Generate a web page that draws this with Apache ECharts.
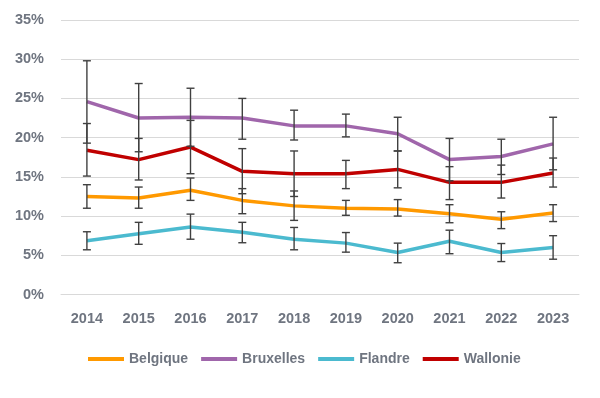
<!DOCTYPE html>
<html>
<head>
<meta charset="utf-8">
<script src="https://cdn.jsdelivr.net/npm/echarts@6/dist/echarts.min.js"></script>
<style>
  html, body { margin: 0; padding: 0; background: #fff; }
  #chart { width: 600px; height: 398px; }
</style>
</head>
<body>
<div id="chart"></div>
<script>
// années
var years = ["2014", "2015", "2016", "2017", "2018", "2019", "2020", "2021", "2022", "2023"];

// valeurs (%) + intervalles de confiance
var belgique = [12.5, 12.3, 13.3, 12.0, 11.3, 11.0, 10.9, 10.3, 9.6, 10.4];
var belgiqueLow = [11.0, 11.0, 12.0, 10.3, 9.45, 10.1, 10.0, 9.15, 8.4, 9.3];
var belgiqueHigh = [14.0, 13.7, 14.85, 13.5, 13.2, 12.0, 12.1, 11.45, 10.55, 11.45];

var bruxelles = [24.6, 22.5, 22.6, 22.5, 21.5, 21.5, 20.5, 17.2, 17.6, 19.2];
var bruxellesLow = [19.3, 18.2, 18.9, 19.8, 19.7, 20.1, 18.3, 14.5, 15.3, 15.9];
var bruxellesHigh = [29.8, 26.9, 26.3, 25.0, 23.5, 23.0, 22.6, 19.9, 19.8, 22.6];

var flandre = [6.85, 7.75, 8.6, 7.95, 7.05, 6.55, 5.35, 6.8, 5.35, 6.0];
var flandreLow = [5.7, 6.4, 7.05, 6.6, 5.7, 5.4, 4.05, 5.2, 4.2, 4.5];
var flandreHigh = [8.0, 9.2, 10.25, 9.2, 8.55, 7.9, 6.55, 8.2, 6.5, 7.5];

var wallonie = [18.4, 17.2, 18.8, 15.7, 15.4, 15.4, 15.95, 14.3, 14.3, 15.5];
var wallonieLow = [15.1, 14.6, 15.4, 12.85, 12.5, 13.5, 13.6, 12.1, 12.3, 13.7];
var wallonieHigh = [21.8, 19.9, 22.2, 18.6, 18.3, 17.1, 18.3, 16.3, 16.5, 17.4];

var yTicks = { min: 0, max: 35, interval: 5 };

var labelFont = "'Liberation Sans', Arial, sans-serif";
var labelColor = "#6f7580";

function errData(low, high) {
  return low.map(function (v, i) { return [i, v, high[i]]; });
}

// barres d'erreur avec petits traits en haut et en bas
function renderErr(params, api) {
  var x = api.value(0);
  var lo = api.coord([x, api.value(1)]);
  var hi = api.coord([x, api.value(2)]);
  var w = 4;
  var st = { stroke: "#404040", lineWidth: 1.4 };
  return {
    type: "group",
    children: [
      { type: "line", shape: { x1: lo[0], y1: lo[1], x2: hi[0], y2: hi[1] }, style: st },
      { type: "line", shape: { x1: lo[0] - w, y1: lo[1], x2: lo[0] + w, y2: lo[1] }, style: st },
      { type: "line", shape: { x1: hi[0] - w, y1: hi[1], x2: hi[0] + w, y2: hi[1] }, style: st }
    ]
  };
}

function lineSerie(name, data, color) {
  return {
    name: name,
    type: "line",
    data: data,
    symbol: "none",
    z: 2,
    lineStyle: { color: color, width: 3.5, join: "round" },
    itemStyle: { color: color }
  };
}

function errSerie(name, low, high) {
  return {
    name: name + " IC",
    type: "custom",
    renderItem: renderErr,
    data: errData(low, high),
    z: 3,
    silent: true
  };
}

var myChart = echarts.init(document.getElementById("chart"));

var option = {
  animation: false,
  backgroundColor: "#fff",
  grid: {
    left: 61,
    right: 21,
    top: 20,
    bottom: 103.5
  },
  legend: {
    left: 83,
    top: 347,
    icon: "rect",
    itemWidth: 36,
    itemHeight: 4,
    itemGap: 13,
    textStyle: {
      fontFamily: labelFont,
      fontWeight: "bold",
      fontSize: 14,
      color: labelColor
    },
    data: ["Belgique", "Bruxelles", "Flandre", "Wallonie"]
  },
  xAxis: {
    type: "category",
    data: years,
    boundaryGap: true,
    axisTick: { show: false },
    axisLine: { show: true, lineStyle: { color: "#d9d9d9", width: 1 } },
    axisLabel: {
      margin: 17,
      fontFamily: labelFont,
      fontWeight: "bold",
      fontSize: 14.5,
      color: labelColor
    }
  },
  yAxis: {
    type: "value",
    min: yTicks.min,
    max: yTicks.max,
    interval: yTicks.interval,
    axisLine: { show: false },
    axisTick: { show: false },
    splitLine: { show: true, lineStyle: { color: "#d9d9d9", width: 1 } },
    axisLabel: {
      margin: 17,
      formatter: "{value}%",
      fontFamily: labelFont,
      fontWeight: "bold",
      fontSize: 14.5,
      color: labelColor
    }
  },
  series: [
    lineSerie("Belgique", belgique, "#ff9900"),
    lineSerie("Bruxelles", bruxelles, "#a066ab"),
    lineSerie("Flandre", flandre, "#4bbacf"),
    lineSerie("Wallonie", wallonie, "#c00000"),
    errSerie("Belgique", belgiqueLow, belgiqueHigh),
    errSerie("Bruxelles", bruxellesLow, bruxellesHigh),
    errSerie("Flandre", flandreLow, flandreHigh),
    errSerie("Wallonie", wallonieLow, wallonieHigh)
  ]
};

myChart.setOption(option, true);
</script>
</body>
</html>
